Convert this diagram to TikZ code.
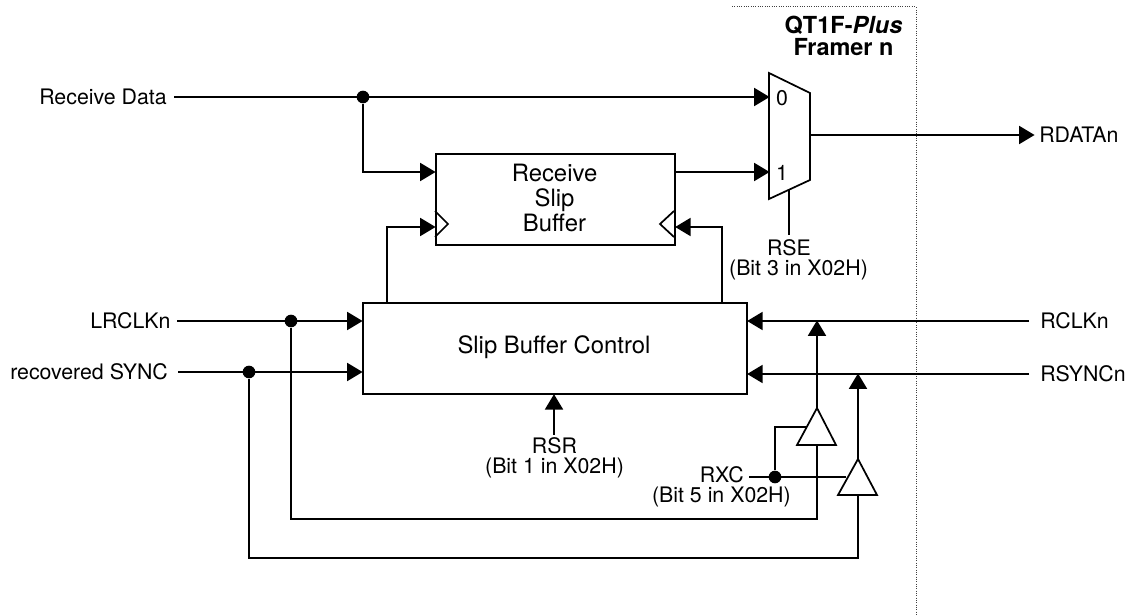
\documentclass[tikz,border=0pt]{standalone}
\usepackage{fontspec}
\setmainfont{TeX Gyre Heros}
\usetikzlibrary{arrows.meta,calc}
\tikzset{
  wire/.style={line width=1.3pt},
  sig/.style={wire,-{Triangle[length=11.5pt,width=13.5pt]},shorten >=-0.4pt},
  outl/.style={line width=1.3pt,line join=miter},
  box/.style={draw,line width=1.3pt,inner sep=0pt,anchor=north west,align=center},
  txt/.style={inner sep=0pt,font=\fontsize{16pt}{18.75pt}\selectfont,align=center},
  big/.style={inner sep=0pt,font=\fontsize{17.9pt}{18.75pt}\selectfont,align=center},
  sm/.style={inner sep=0pt,font=\fontsize{16pt}{16pt}\selectfont,align=center},
  dot/.style={circle,fill=black,draw=none,inner sep=0pt,minimum size=9.5pt},
  framer/.style={line width=0.75pt,densely dotted,black!75}
}
\begin{document}
\begin{tikzpicture}[x=0.75pt,y=-0.75pt]
\useasboundingbox (0,0) rectangle (1128,616);
% framer boundary
\coordinate (fa) at (732,7); \coordinate (fb) at (916,7); \coordinate (fc) at (916,616);
\draw[framer] (fa) -- (fb) -- (fc);
\node[txt,font=\fontsize{17.6pt}{17pt}\selectfont\bfseries] (title) at (843.5,36) {QT1F-\textit{Plus}\\Framer n};
% boxes
\node[box,minimum width=179.25pt,minimum height=68.25pt] (rsb) at (435,153) {};
\node[big] (rsbt) at (554.5,198) {Receive\\Slip\\Buffer};
\node[box,minimum width=288pt,minimum height=68.25pt] (ctl) at (362,302) {};
\node[big] (ctlt) at (554,347) {Slip Buffer Control};
% mux
\coordinate (m1) at (769,73); \coordinate (m2) at (810,93); \coordinate (m3) at (810,180); \coordinate (m4) at (769,199);
\draw[outl] (m1) -- (m2) -- (m3) -- (m4) -- cycle;
\node[txt] (m0) at (782,98) {0};
\node[txt] (m1t) at (782,173) {1};
% clock marks
\draw[outl] (435,211) -- (448,224) -- (435,237);
\draw[outl] (674,211) -- (660,224) -- (674,237);
% buffers
\coordinate (t1a) at (817,408); \coordinate (t1l) at (797,445); \coordinate (t1r) at (836,445); \coordinate (t1b) at (817,445);
\draw[outl] (t1a) -- (t1r) -- (t1l) -- cycle;
\coordinate (t2a) at (858,459); \coordinate (t2l) at (838,495); \coordinate (t2r) at (877,495); \coordinate (t2b) at (858,495);
\draw[outl] (t2a) -- (t2r) -- (t2l) -- cycle;
% labels
\node[txt,anchor=west] (rd) at (39,97) {Receive Data};
\node[txt,anchor=west] (lr) at (90,321) {LRCLKn};
\node[txt,anchor=west] (rs) at (10,372) {recovered SYNC};
\node[txt,anchor=west] (rdata) at (1039,135) {RDATAn};
\node[txt,anchor=west] (rclk) at (1040,321) {RCLKn};
\node[txt,anchor=west] (rsync) at (1040,374) {RSYNCn};
\node[sm] (rse) at (789,248) {RSE};
\node[sm] (rseb) at (798.5,270) {(Bit 3 in X02H)};
\node[sm] (rsr) at (554.5,445.5) {RSR};
\node[sm] (rsrb) at (554.5,467.5) {(Bit 1 in X02H)};
\node[sm,anchor=east] (rxc) at (744,475) {RXC};
\node[sm,anchor=east] (rxb) at (791,497) {(Bit 5 in X02H)};
% junctions
\coordinate (rdl) at (174,97); \node[dot] (j1) at (363,97) {};
\coordinate (lrl) at (177,321); \node[dot] (j2) at (291,321) {};
\coordinate (rsl) at (178,372); \node[dot] (j3) at (249,372) {};
\node[dot] (j4) at (775,477) {};
\coordinate (rxl) at (749,477);
% wires
\draw[sig] (rdl) -- (769,97);
\draw[sig] (j1) |- (rsb.west |- 0,172);
\draw[sig] (rsb.east |- 0,172) -- (769,172);
\draw[sig] (m2 |- 0,135) -- (1034,135);
\draw[wire] (789,190) -- (789,235);
\draw[sig] (387,302) |- (rsb.west |- 0,227);
\draw[sig] (722,302) |- (rsb.east |- 0,227);
\draw[sig] (lrl) -- (ctl.west |- 0,321);
\draw[sig] (rsl) -- (ctl.west |- 0,372);
\draw[sig] (1029,321) -- (ctl.east |- 0,321);
\draw[sig] (1029,374) -- (ctl.east |- 0,374);
\draw[sig] (554,435) -- (ctl.south -| 554,0);
\draw[sig] (t1a) -- (817,321);
\draw[sig] (t2a) -- (858,374);
\draw[wire] (rxl) -- (846,477);
\draw[wire] (j4) |- (806,427);
\draw[wire,line join=miter] (j2) |- (817,519) -- (t1b);
\draw[wire,line join=miter] (j3) |- (858,558) -- (t2b);
\end{tikzpicture}
\end{document}
